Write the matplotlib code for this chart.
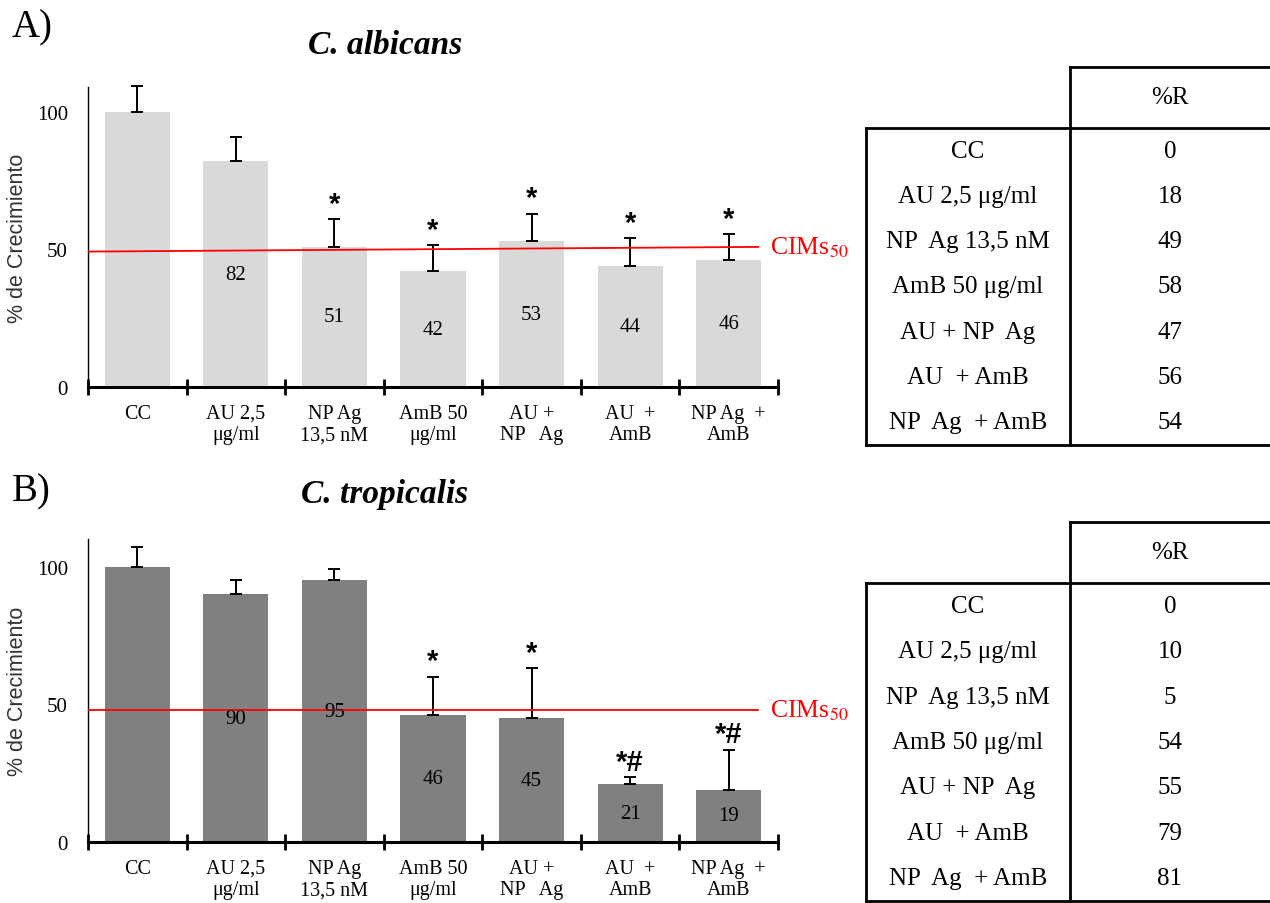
import numpy as np
import matplotlib.pyplot as plt

plt.rcParams['font.family'] = ['Liberation Serif', 'DejaVu Serif']
plt.rcParams['mathtext.fontset'] = 'stix'

# datos
categorias = ['CC', 'AU 2,5\nμg/ml', 'NP Ag\n13,5 nM', 'AmB 50\nμg/ml',
              'AU +\nNP   Ag', 'AU  +\nAmB', 'NP Ag  +\nAmB']
filas_tabla = ['CC', 'AU 2,5 μg/ml', 'NP  Ag 13,5 nM', 'AmB 50 μg/ml',
               'AU + NP  Ag', 'AU  + AmB', 'NP  Ag  + AmB']

crec_albicans = [100, 82, 51, 42, 53, 44, 46]
err_albicans = [9.5, 9, 10, 9.5, 10, 10, 9.5]
sig_albicans = ['', '', '*', '*', '*', '*', '*']
etiq_albicans = ['', '82', '51', '42', '53', '44', '46']
r_albicans = [0, 18, 49, 58, 47, 56, 54]
cim_albicans = [49.2, 50.9]

crec_tropicalis = [100, 90, 95, 46, 45, 21, 19]
err_tropicalis = [7, 5, 4, 14, 18, 2.5, 14.5]
sig_tropicalis = ['', '', '', '*', '*', '*#', '*#']
etiq_tropicalis = ['', '90', '95', '46', '45', '21', '19']
r_tropicalis = [0, 10, 5, 54, 55, 79, 81]
cim_tropicalis = [48, 48]

W, H = 1270, 904
fig = plt.figure(figsize=(W / 100, H / 100), dpi=100)


def panel(rect, vals, errs, sig, etiq, cim, color, ytop):
    ax = fig.add_axes(rect)
    x = np.arange(len(vals))
    ax.bar(x, vals, width=0.66, color=color, zorder=1)
    ax.errorbar(x, vals, yerr=[np.zeros(len(vals)), errs], fmt='none',
                ecolor='black', elinewidth=1.4, capsize=4, capthick=1.4,
                zorder=2, clip_on=False)
    for xi, v, e, s, t in zip(x, vals, errs, sig, etiq):
        if t:
            ax.text(xi, v / 2, t, ha='center', va='center', fontsize=15, zorder=4)
        if s:
            ax.annotate(s, (xi, v + e), xytext=(0, 1), textcoords='offset points',
                        ha='center', va='bottom', fontsize=21, fontweight='bold',
                        family='Liberation Sans')
    ax.plot([-0.5, 6.3], cim, color='red', lw=1.3, zorder=3)
    ax.text(6.42, cim[1], 'CIMs$_{50}$', color='red', fontsize=18.5,
            va='center', ha='left', clip_on=False)
    ax.set_xlim(-0.5, 6.5)
    ax.set_ylim(0, ytop)
    ax.set_yticks([0, 50, 100])
    ax.tick_params(axis='y', length=0, labelsize=15, pad=14.5)
    ax.set_xticks(np.arange(-0.5, 7, 1))
    ax.set_xticklabels([])
    ax.set_xticks(x, minor=True)
    ax.set_xticklabels(categorias, minor=True, fontsize=14.5, linespacing=1.2)
    ax.tick_params(axis='x', which='major', direction='inout', length=12, width=2)
    ax.tick_params(axis='x', which='minor', length=0, pad=12)
    for sp in ['top', 'right']:
        ax.spines[sp].set_visible(False)
    ax.spines['bottom'].set_linewidth(2.2)
    ax.spines['left'].set_linewidth(1)
    ax.set_ylabel('% de Crecimiento', family='Liberation Sans', fontsize=15.5,
                  color='#333333')
    ax.yaxis.set_label_coords(-0.087, 0.5)
    return ax


panel([88 / W, 1 - 388 / H, 690 / W, 300 / H], crec_albicans, err_albicans,
      sig_albicans, etiq_albicans, cim_albicans, '#d9d9d9', 109)
panel([88 / W, 1 - 843 / H, 690 / W, 303 / H], crec_tropicalis, err_tropicalis,
      sig_tropicalis, etiq_tropicalis, cim_tropicalis, '#808080', 110)

# capa para titulos y tablas en pixeles
ov = fig.add_axes([0, 0, 1, 1], facecolor='none')
ov.set_xlim(0, W)
ov.set_ylim(H, 0)
ov.axis('off')

ov.text(12, 28, 'A)', fontsize=28, va='center')
ov.text(385, 45, 'C. albicans', fontsize=24, style='italic', fontweight='bold',
        ha='center', va='center')
ov.text(12, 492, 'B)', fontsize=28, va='center')
ov.text(385, 495, 'C. tropicalis', fontsize=24, style='italic', fontweight='bold',
        ha='center', va='center')


def tabla(y_head, y_body, y_fin, valores):
    lw = 2
    ov.plot([1070, W], [y_head, y_head], color='black', lw=lw)
    ov.plot([866, W], [y_body, y_body], color='black', lw=lw)
    ov.plot([866, W], [y_fin, y_fin], color='black', lw=lw)
    ov.plot([866, 866], [y_body, y_fin], color='black', lw=lw)
    ov.plot([1070, 1070], [y_head, y_fin], color='black', lw=lw)
    ov.text(1170, (y_head + y_body) / 2, '%R', fontsize=18, ha='center', va='center')
    paso = (y_fin - y_body) / len(valores)
    for i, (f, v) in enumerate(zip(filas_tabla, valores)):
        yy = y_body + paso * (i + 0.5)
        ov.text(968, yy, f, fontsize=18, ha='center', va='center')
        ov.text(1170, yy, str(v), fontsize=18, ha='center', va='center')


tabla(68, 129, 446, r_albicans)
tabla(523, 584, 902, r_tropicalis)

fig.savefig('out.png', dpi=100)
